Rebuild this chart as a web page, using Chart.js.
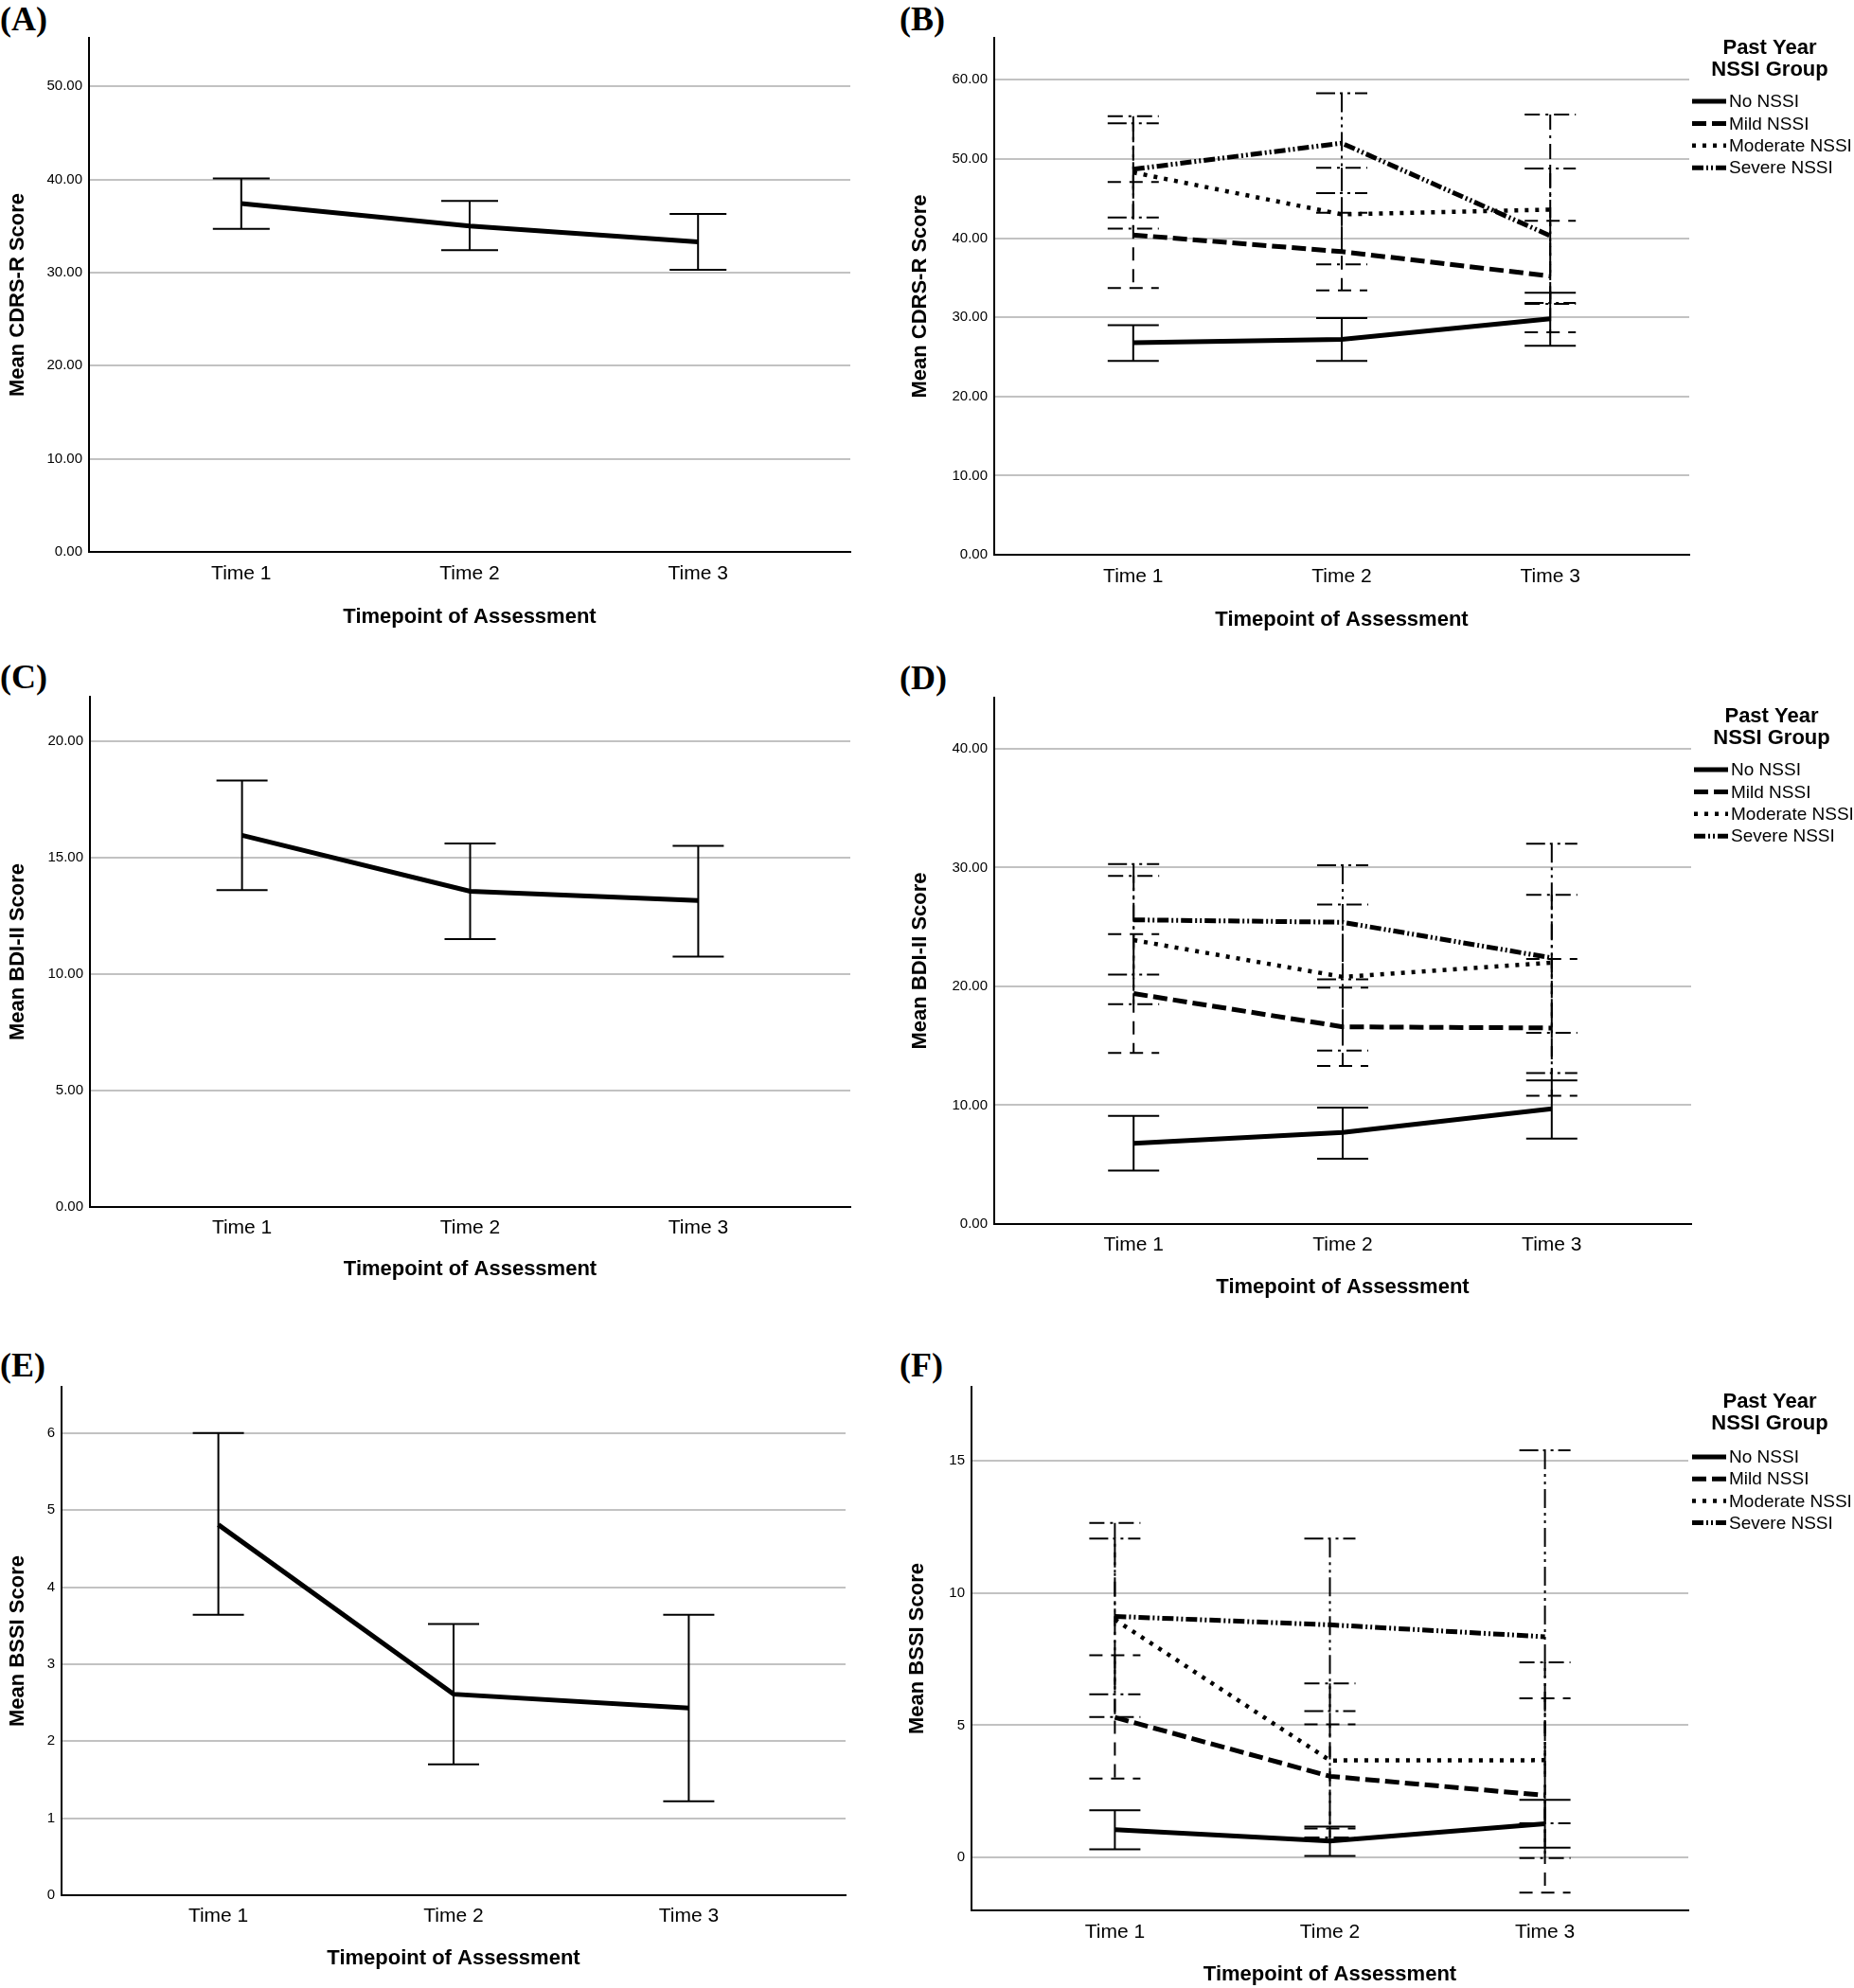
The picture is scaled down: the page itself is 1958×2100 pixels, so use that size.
<!DOCTYPE html>
<html>
<head>
<meta charset="utf-8">
<script src="https://cdn.jsdelivr.net/npm/chart.js@4.4.1/dist/chart.umd.min.js"></script>
<style>
    html, body { margin: 0; padding: 0; background: #fff; }
    body { width: 1958px; height: 2100px; position: relative; overflow: hidden; }
    canvas { position: absolute; }
    .tag {
        position: absolute;
        font-family: 'Liberation Serif', 'DejaVu Serif', serif;
        font-weight: bold;
        font-size: 36px;
        line-height: 1;
        color: #000;
    }
</style>
</head>
<body>
<div class="tag" style="left:0;top:2px">(A)</div>
<div class="tag" style="left:950px;top:2px">(B)</div>
<div class="tag" style="left:0;top:697px">(C)</div>
<div class="tag" style="left:950px;top:698px">(D)</div>
<div class="tag" style="left:0;top:1424px">(E)</div>
<div class="tag" style="left:950px;top:1424px">(F)</div>

<canvas id="chartA" width="940" height="690" style="left:0;top:0"></canvas>
<canvas id="chartB" width="1018" height="690" style="left:940px;top:0"></canvas>
<canvas id="chartC" width="940" height="690" style="left:0;top:690px"></canvas>
<canvas id="chartD" width="1018" height="690" style="left:940px;top:690px"></canvas>
<canvas id="chartE" width="940" height="690" style="left:0;top:1410px"></canvas>
<canvas id="chartF" width="1018" height="690" style="left:940px;top:1410px"></canvas>

<script>
// ===== Data =====

const timeLabels = ['Time 1', 'Time 2', 'Time 3'];
const groupNames = ['No NSSI', 'Mild NSSI', 'Moderate NSSI', 'Severe NSSI'];
const legendTitle = ['Past Year', 'NSSI Group'];
const xTitle = 'Timepoint of Assessment';

// (A) CDRS-R, whole sample
const cdrsMean = [37.4, 35.0, 33.3];
const cdrsLow  = [34.7, 32.4, 30.3];
const cdrsHigh = [40.1, 37.7, 36.3];
const cdrsTicks = [0, 10, 20, 30, 40, 50];

// (B) CDRS-R by group (rows follow groupNames)
const cdrsGroupMean = [[26.8, 27.2, 29.8], [40.4, 38.3, 35.2], [48.3, 43.0, 43.6], [48.7, 52.0, 40.3]];
const cdrsGroupLow  = [[24.5, 24.5, 26.4], [33.7, 33.4, 28.1], [41.2, 36.7, 31.7], [42.6, 45.7, 31.8]];
const cdrsGroupHigh = [[29.0, 29.9, 33.1], [47.1, 43.2, 42.2], [55.4, 48.9, 55.6], [54.5, 58.3, 48.8]];
const cdrsGroupTicks = [0, 10, 20, 30, 40, 50, 60];

// (C) BDI-II, whole sample
const bdiMean = [15.95, 13.55, 13.15];
const bdiLow  = [13.6, 11.5, 10.75];
const bdiHigh = [18.3, 15.6, 15.5];
const bdiTicks = [0, 5, 10, 15, 20];

// (D) BDI-II by group
const bdiGroupMean = [[6.8, 7.7, 9.7], [19.4, 16.6, 16.5], [23.9, 20.8, 22.0], [25.6, 25.4, 22.4]];
const bdiGroupLow  = [[4.5, 5.5, 7.2], [14.4, 13.3, 10.8], [18.5, 14.6, 16.1], [21.0, 20.6, 12.7]];
const bdiGroupHigh = [[9.1, 9.8, 12.1], [24.4, 19.9, 22.3], [29.3, 26.9, 27.7], [30.3, 30.2, 32.0]];
const bdiGroupTicks = [0, 10, 20, 30, 40];

// (E) BSSI, whole sample
const bssiMean = [4.81, 2.61, 2.43];
const bssiLow  = [3.64, 1.70, 1.22];
const bssiHigh = [6.0, 3.52, 3.64];
const bssiTicks = [0, 1, 2, 3, 4, 5, 6];

// (F) BSSI by group
const bssiGroupMean = [[1.05, 0.62, 1.28], [5.3, 3.07, 2.35], [9.0, 3.67, 3.68], [9.12, 8.8, 8.35]];
const bssiGroupLow  = [[0.31, 0.06, 0.37], [2.99, 1.1, -1.33], [5.31, 0.76, -0.02], [6.17, 5.54, 1.29]];
const bssiGroupHigh = [[1.79, 1.17, 2.18], [7.65, 5.04, 6.02], [12.65, 6.58, 7.38], [12.06, 12.06, 15.4]];
const bssiGroupTicks = [0, 5, 10, 15];

// ===== Styles =====

const FONT = "'Liberation Sans', Arial, sans-serif";
const GRID_COLOR = '#c2c2c2';

// line style per group: solid, dashed, dotted, dash-dot-dot
const GROUP_STYLES = [
    { borderDash: [], borderWidth: 5, errDash: [] },
    { borderDash: [15, 6], borderWidth: 5, errDash: [14, 9] },
    { borderDash: [4, 7], borderWidth: 4.5, errDash: [16, 6, 3, 6] },
    { borderDash: [12, 3, 2, 3, 2, 3], borderWidth: 5, errDash: [20, 5, 3, 5, 3, 5] }
];

// ===== Plugins =====

const errorBars = {
    id: 'errorBars',
    beforeDatasetsDraw(chart, args, opts) {
        const { ctx, scales: { x, y } } = chart;
        const cap = opts.cap || 27;
        ctx.save();
        ctx.beginPath();
        ctx.rect(chart.chartArea.left, chart.chartArea.top,
                 chart.chartArea.right - chart.chartArea.left,
                 chart.chartArea.bottom - chart.chartArea.top);
        ctx.clip();
        ctx.strokeStyle = '#000';
        ctx.lineWidth = 2;
        chart.data.datasets.forEach(ds => {
            ctx.setLineDash(ds.errDash || []);
            ds.data.forEach((pt, i) => {
                const px = x.getPixelForValue(pt.x);
                const top = y.getPixelForValue(ds.errHigh[i]);
                const bot = y.getPixelForValue(ds.errLow[i]);
                ctx.beginPath();
                ctx.moveTo(px, top); ctx.lineTo(px, bot);
                ctx.moveTo(px - cap, top); ctx.lineTo(px + cap, top);
                ctx.moveTo(px - cap, bot); ctx.lineTo(px + cap, bot);
                ctx.stroke();
            });
        });
        ctx.restore();
    }
};

const groupLegend = {
    id: 'groupLegend',
    afterDraw(chart, args, opts) {
        if (!opts.show) return;
        const ctx = chart.ctx;
        ctx.save();
        ctx.fillStyle = '#000';
        ctx.strokeStyle = '#000';
        ctx.textAlign = 'center';
        ctx.textBaseline = 'middle';
        ctx.font = `bold 22px ${FONT}`;
        legendTitle.forEach((t, i) => ctx.fillText(t, opts.titleX, opts.titleY + i * 23));
        ctx.font = `19px ${FONT}`;
        ctx.textAlign = 'left';
        chart.data.datasets.forEach((ds, i) => {
            const yy = opts.rowY + i * opts.rowGap;
            ctx.lineWidth = ds.borderWidth;
            ctx.setLineDash(ds.borderDash || []);
            ctx.beginPath();
            ctx.moveTo(opts.lineX, yy);
            ctx.lineTo(opts.lineX + 36, yy);
            ctx.stroke();
            ctx.fillText(ds.label, opts.lineX + 39, yy + 1);
        });
        ctx.restore();
    }
};

// ===== Chart builder =====

function buildDatasets(means, lows, highs, grouped) {
    if (!grouped) {
        return [{
            label: 'Mean',
            data: means.map((v, i) => ({ x: i + 1, y: v })),
            errLow: lows, errHigh: highs, errDash: [],
            borderColor: '#000', borderWidth: 5, borderDash: [],
            pointRadius: 0, tension: 0, fill: false
        }];
    }
    return groupNames.map((name, g) => ({
        label: name,
        data: means[g].map((v, i) => ({ x: i + 1, y: v })),
        errLow: lows[g], errHigh: highs[g], errDash: GROUP_STYLES[g].errDash,
        borderColor: '#000',
        borderWidth: GROUP_STYLES[g].borderWidth,
        borderDash: GROUP_STYLES[g].borderDash,
        borderCapStyle: 'butt',
        pointRadius: 0, tension: 0, fill: false
    }));
}

function makeChart(p) {
    const canvas = document.getElementById(p.id);
    const W = canvas.width, H = canvas.height;
    return new Chart(canvas.getContext('2d'), {
        type: 'line',
        data: { datasets: buildDatasets(p.means, p.lows, p.highs, p.grouped) },
        options: {
            responsive: false,
            animation: false,
            devicePixelRatio: 1,
            layout: { padding: { left: 0, top: p.area[1], right: W - p.area[2], bottom: 0 } },
            plugins: {
                legend: { display: false },
                tooltip: { enabled: false },
                errorBars: { cap: p.cap || 27 },
                groupLegend: p.legend || { show: false }
            },
            scales: {
                x: {
                    type: 'linear',
                    min: 1 / 3, max: 11 / 3,
                    afterBuildTicks: s => { s.ticks = timeLabels.map((_, i) => ({ value: i + 1 })); },
                    afterFit: s => { s.height = H - p.area[3]; },
                    grid: { display: false, drawTicks: false },
                    border: { color: '#000', width: 2 },
                    ticks: {
                        padding: p.tickY - p.area[3] - 12.6,
                        color: '#000', maxRotation: 0, autoSkip: false,
                        font: { family: FONT, size: 21 },
                        callback: v => timeLabels[Math.round(v) - 1]
                    },
                    title: {
                        display: true, text: xTitle, color: '#000',
                        font: { family: FONT, size: 22, weight: 'bold' },
                        padding: { top: 0, bottom: Math.max(0, H - p.titleY - 13.2) }
                    }
                },
                y: {
                    type: 'linear',
                    min: p.yMin, max: p.yMax,
                    afterBuildTicks: s => { s.ticks = p.yTicks.map(v => ({ value: v })); },
                    afterFit: s => { s.width = p.area[0]; },
                    grid: { color: GRID_COLOR, lineWidth: 2, drawTicks: false },
                    border: { color: '#000', width: 2 },
                    ticks: {
                        padding: 7, color: '#000',
                        font: { family: FONT, size: 15 },
                        callback: v => v.toFixed(p.decimals)
                    },
                    title: {
                        display: true, text: p.yTitle, color: '#000',
                        font: { family: FONT, size: 22, weight: 'bold' },
                        padding: { top: p.yTitleX - 13.2, bottom: 0 }
                    }
                }
            }
        },
        plugins: [errorBars, groupLegend]
    });
}

// area = [left, top, right, bottom] of the plot inside each canvas
makeChart({
    id: 'chartA', means: cdrsMean, lows: cdrsLow, highs: cdrsHigh, grouped: false,
    yMin: 0, yMax: 55.2, yTicks: cdrsTicks, decimals: 2, yTitle: 'Mean CDRS-R Score',
    area: [94, 40, 898, 583], tickY: 606, titleY: 652, yTitleX: 19, cap: 30
});
makeChart({
    id: 'chartB', means: cdrsGroupMean, lows: cdrsGroupLow, highs: cdrsGroupHigh, grouped: true,
    yMin: 0, yMax: 65.3, yTicks: cdrsGroupTicks, decimals: 2, yTitle: 'Mean CDRS-R Score',
    area: [110, 40, 844, 586], tickY: 609, titleY: 655, yTitleX: 32,
    legend: { show: true, titleX: 929, titleY: 51, rowY: 107, rowGap: 23.4, lineX: 847 }
});
makeChart({
    id: 'chartC', means: bdiMean, lows: bdiLow, highs: bdiHigh, grouped: false,
    yMin: 0, yMax: 21.9, yTicks: bdiTicks, decimals: 2, yTitle: 'Mean BDI-II Score',
    area: [95, 46, 898, 585], tickY: 607, titleY: 651, yTitleX: 19
});
makeChart({
    id: 'chartD', means: bdiGroupMean, lows: bdiGroupLow, highs: bdiGroupHigh, grouped: true,
    yMin: 0, yMax: 44.3, yTicks: bdiGroupTicks, decimals: 2, yTitle: 'Mean BDI-II Score',
    area: [110, 47, 846, 603], tickY: 625, titleY: 670, yTitleX: 32,
    legend: { show: true, titleX: 931, titleY: 67, rowY: 123, rowGap: 23.4, lineX: 849 }
});
makeChart({
    id: 'chartE', means: bssiMean, lows: bssiLow, highs: bssiHigh, grouped: false,
    yMin: 0, yMax: 6.6, yTicks: bssiTicks, decimals: 0, yTitle: 'Mean BSSI Score',
    area: [65, 55, 893, 592], tickY: 614, titleY: 659, yTitleX: 19
});
makeChart({
    id: 'chartF', means: bssiGroupMean, lows: bssiGroupLow, highs: bssiGroupHigh, grouped: true,
    yMin: -2, yMax: 17.8, yTicks: bssiGroupTicks, decimals: 0, yTitle: 'Mean BSSI Score',
    area: [86, 55, 843, 608], tickY: 631, titleY: 676, yTitleX: 29,
    legend: { show: true, titleX: 929, titleY: 71, rowY: 129, rowGap: 23.2, lineX: 847 }
});
</script>
</body>
</html>
